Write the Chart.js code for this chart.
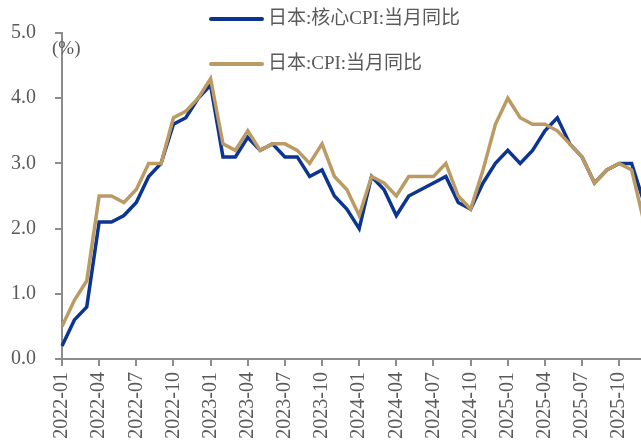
<!DOCTYPE html>
<html>
<head>
<meta charset="utf-8">
<script src="https://cdn.jsdelivr.net/npm/chart.js@4"></script>
<style>
    html, body { margin: 0; padding: 0; background: #fff; }
    #wrap { width: 641px; height: 443px; overflow: hidden; position: relative; }
    canvas { display: block; }
</style>
</head>
<body>
<div id="wrap"><canvas id="chartCpi" width="650" height="443"></canvas></div>
<script>
const months = [
    '2022-01','2022-02','2022-03','2022-04','2022-05','2022-06','2022-07','2022-08','2022-09','2022-10','2022-11','2022-12',
    '2023-01','2023-02','2023-03','2023-04','2023-05','2023-06','2023-07','2023-08','2023-09','2023-10','2023-11','2023-12',
    '2024-01','2024-02','2024-03','2024-04','2024-05','2024-06','2024-07','2024-08','2024-09','2024-10','2024-11','2024-12',
    '2025-01','2025-02','2025-03','2025-04','2025-05','2025-06','2025-07','2025-08','2025-09','2025-10','2025-11','2025-12'
];

// 日本:核心CPI:当月同比
const coreCpi = [
    0.2, 0.6, 0.8, 2.1, 2.1, 2.2, 2.4, 2.8, 3.0, 3.6, 3.7, 4.0,
    4.2, 3.1, 3.1, 3.4, 3.2, 3.3, 3.1, 3.1, 2.8, 2.9, 2.5, 2.3,
    2.0, 2.8, 2.6, 2.2, 2.5, 2.6, 2.7, 2.8, 2.4, 2.3, 2.7, 3.0,
    3.2, 3.0, 3.2, 3.5, 3.7, 3.3, 3.1, 2.7, 2.9, 3.0, 3.0, 2.4
];

// 日本:CPI:当月同比
const cpi = [
    0.5, 0.9, 1.2, 2.5, 2.5, 2.4, 2.6, 3.0, 3.0, 3.7, 3.8, 4.0,
    4.3, 3.3, 3.2, 3.5, 3.2, 3.3, 3.3, 3.2, 3.0, 3.3, 2.8, 2.6,
    2.2, 2.8, 2.7, 2.5, 2.8, 2.8, 2.8, 3.0, 2.5, 2.3, 2.9, 3.6,
    4.0, 3.7, 3.6, 3.6, 3.5, 3.3, 3.1, 2.7, 2.9, 3.0, 2.9, 2.1
];

const yTicks = [0, 1, 2, 3, 4, 5];

const FONT = '"Liberation Serif", "Noto Sans CJK SC", serif';
const TEXT_COLOR = '#5a5a5a';
const AXIS_COLOR = '#8c8c8c';
const BLUE = '#0b3590';
const TAN = '#bb9a64';

// leyenda y unidad dibujadas a mano (dos filas, encima del área)
const extrasPlugin = {
    id: 'extras',
    afterDraw(chart) {
        const ctx = chart.ctx;
        ctx.save();
        ctx.font = '19px ' + FONT;
        ctx.fillStyle = TEXT_COLOR;
        ctx.textBaseline = 'middle';
        ctx.textAlign = 'left';
        ctx.fillText('(%)', 52, 49);

        const rows = [19, 64];
        chart.data.datasets.forEach((ds, i) => {
            const y = rows[i];
            ctx.strokeStyle = ds.borderColor;
            ctx.lineWidth = 4;
            ctx.lineCap = 'round';
            ctx.beginPath();
            ctx.moveTo(211, y);
            ctx.lineTo(262, y);
            ctx.stroke();
            ctx.fillStyle = TEXT_COLOR;
            ctx.fillText(ds.label, 268, y);
        });
        ctx.restore();
    }
};

const ctx = document.getElementById('chartCpi');

new Chart(ctx, {
    type: 'line',
    data: {
        labels: months,
        datasets: [
            {
                label: '日本:核心CPI:当月同比',
                data: coreCpi,
                borderColor: BLUE,
                backgroundColor: BLUE,
                borderWidth: 3.5,
                pointRadius: 0,
                tension: 0,
                order: 1
            },
            {
                label: '日本:CPI:当月同比',
                data: cpi,
                borderColor: TAN,
                backgroundColor: TAN,
                borderWidth: 3.5,
                pointRadius: 0,
                tension: 0,
                order: 0
            }
        ]
    },
    options: {
        responsive: false,
        animation: false,
        layout: {
            padding: { top: 33, right: 6, left: 0, bottom: 0 }
        },
        plugins: {
            legend: { display: false },
            tooltip: { enabled: false }
        },
        scales: {
            x: {
                type: 'category',
                offset: false,
                afterFit: function(scale) { scale.height = 84; },
                border: { color: AXIS_COLOR, width: 2 },
                grid: {
                    drawOnChartArea: false,
                    drawTicks: true,
                    tickLength: 7,
                    color: AXIS_COLOR,
                    lineWidth: 2
                },
                ticks: {
                    autoSkip: false,
                    maxRotation: 90,
                    minRotation: 90,
                    padding: 6,
                    color: TEXT_COLOR,
                    font: { family: FONT, size: 20 },
                    callback: function(value, index) {
                        return index % 3 === 0 ? months[index] : null;
                    }
                }
            },
            y: {
                min: 0,
                max: 5,
                afterFit: function(scale) { scale.width = 62; },
                afterBuildTicks: function(scale) {
                    scale.ticks = yTicks.map(v => ({ value: v }));
                },
                border: { color: AXIS_COLOR, width: 2 },
                grid: {
                    drawOnChartArea: false,
                    drawTicks: true,
                    tickLength: 7,
                    color: AXIS_COLOR,
                    lineWidth: 2
                },
                ticks: {
                    padding: 19,
                    color: TEXT_COLOR,
                    font: { family: FONT, size: 20 },
                    callback: function(value) {
                        return value.toFixed(1);
                    }
                }
            }
        }
    },
    plugins: [extrasPlugin]
});
</script>
</body>
</html>
